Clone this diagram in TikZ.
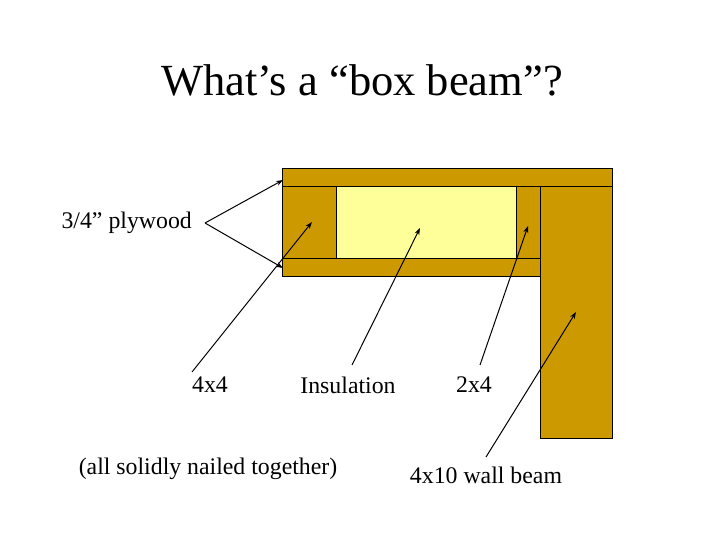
\documentclass[tikz,border=0pt]{standalone}
\usepackage{fontspec}
\setmainfont{Liberation Serif}
\usetikzlibrary{arrows.meta}
\begin{document}
\begin{tikzpicture}[x=1pt,y=-1pt,
  wood/.style={draw=black,fill=wood,line width=0.8pt},
  ins/.style={draw=black,fill=insul,line width=0.8pt},
  lbl/.style={font=\fontsize{23.8}{28}\selectfont,inner sep=0pt},
  arr/.style={-{Stealth[length=7pt,width=5pt]},line width=1pt}]
\definecolor{wood}{RGB}{204,153,0}
\definecolor{insul}{RGB}{255,255,153}
\useasboundingbox (0,0) rectangle (720,540);
\node[font=\fontsize{44.5}{52}\selectfont] (title) at (362,80) {What’s a “box beam”?};
\draw[wood] (282,168) rectangle (612,186);
\draw[wood] (540,186) rectangle (612,438);
\draw[wood] (282,186) rectangle (336,258);
\draw[ins] (336,186) rectangle (516,258);
\draw[wood] (516,186) rectangle (540,258);
\draw[wood] (282,258) rectangle (540,276);
\coordinate (pt) at (283,180);
\coordinate (pb) at (283,268);
\coordinate (t44) at (312,222);
\coordinate (tin) at (420,228);
\coordinate (t24) at (528,226);
\coordinate (twb) at (576,312);
\node[lbl,anchor=east] (ply) at (192,223) {3/4” plywood};
\coordinate (pj) at (205,223);
\node[lbl] (l44) at (210,385) {4x4};
\node[lbl] (lin) at (348,385) {Insulation};
\node[lbl] (l24) at (474,385) {2x4};
\node[lbl] (nail) at (208,469) {(all solidly nailed together)};
\node[lbl] (lwb) at (486,475) {4x10 wall beam};
\draw[arr] (pj) -- (pt);
\draw[arr] (pj) -- (pb);
\draw[arr] (192,372) -- (t44);
\draw[arr] (352,365) -- (tin);
\draw[arr] (480,365) -- (t24);
\draw[arr] (486,457) -- (twb);
\end{tikzpicture}
\end{document}
